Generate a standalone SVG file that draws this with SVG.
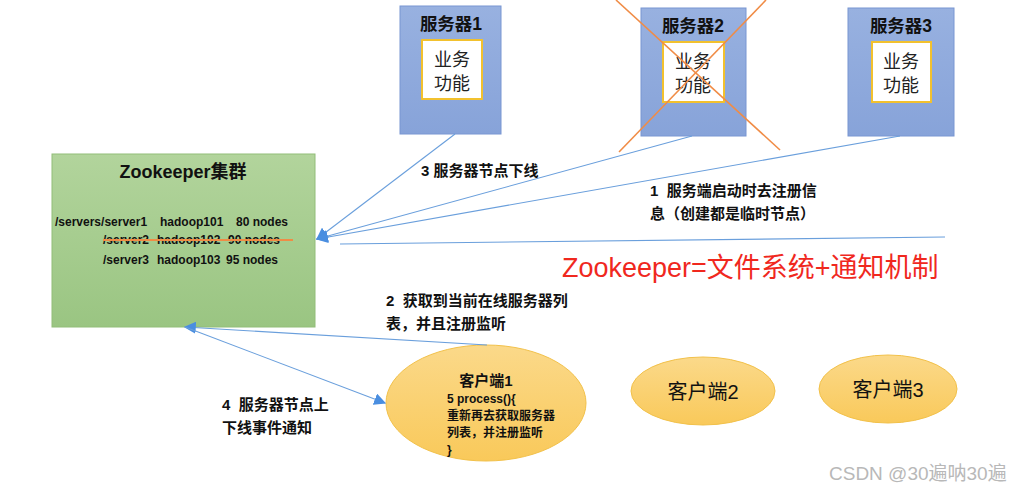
<svg xmlns="http://www.w3.org/2000/svg" width="1011" height="493" viewBox="0 0 1011 493">
<style>
text{font-family:"Liberation Sans","Noto Sans CJK SC",sans-serif;fill:#111}
.b{font-weight:bold}
.srv{fill:url(#gBlue);stroke:#7896d2;stroke-width:1}
.inner{fill:#fff;stroke:#f2c12e;stroke-width:2}
.stitle{font-size:17.5px;font-weight:bold;text-anchor:middle}
.itxt{font-size:18px;text-anchor:middle;fill:#222}
.conn{stroke:#6a9fdc;stroke-width:1.1;fill:none}
.lbl{font-size:15px;font-weight:bold}
.zk{font-size:12px;font-weight:bold}
.cli{fill:url(#gGold);stroke:#f2c14a;stroke-width:1}
.x{stroke:#f08c46;stroke-width:1.6}
</style>
<defs>
<linearGradient id="gBlue" x1="0" y1="0" x2="0" y2="1"><stop offset="0" stop-color="#98b1e0"/><stop offset="1" stop-color="#87a3d9"/></linearGradient>
<linearGradient id="gGreen" x1="0" y1="0" x2="0" y2="1"><stop offset="0" stop-color="#b2d49c"/><stop offset="1" stop-color="#9ac582"/></linearGradient>
<linearGradient id="gGold" x1="0" y1="0" x2="0" y2="1"><stop offset="0" stop-color="#fbd98a"/><stop offset="1" stop-color="#f9c95a"/></linearGradient>
<marker id="arr" viewBox="0 0 10 10" refX="9" refY="5" markerWidth="12" markerHeight="12" markerUnits="userSpaceOnUse" orient="auto"><path d="M0,0 L10,5 L0,10 z" fill="#4a8ee0"/></marker>
</defs>
<rect width="1011" height="493" fill="#fff"/>

<g id="zookeeper">
<rect x="52" y="154" width="263" height="173" fill="url(#gGreen)" stroke="#92bd78" stroke-width="1"/>
<text x="183" y="178" class="b" font-size="18" text-anchor="middle">Zookeeper集群</text>
<text class="zk" y="226"><tspan x="55">/servers/server1</tspan><tspan x="160">hadoop101</tspan><tspan x="236">80 nodes</tspan></text>
<text class="zk" y="244"><tspan x="103">/server2</tspan><tspan x="157">hadoop102</tspan><tspan x="228">90 nodes</tspan></text>
<line x1="103" y1="240" x2="293" y2="240" stroke="#f08c46" stroke-width="1.8"/>
<text class="zk" y="264"><tspan x="103">/server3</tspan><tspan x="157">hadoop103</tspan><tspan x="226">95 nodes</tspan></text>
</g>

<g id="server1">
<rect class="srv" x="400" y="6" width="101" height="128"/>
<text class="stitle" x="451" y="30">服务器1</text>
<rect class="inner" x="422" y="40" width="60" height="59"/>
<text class="itxt" x="452" y="66">业务</text>
<text class="itxt" x="452" y="90">功能</text>
</g>

<g id="server2">
<rect class="srv" x="641" y="8" width="105" height="128"/>
<text class="stitle" x="693" y="32">服务器2</text>
<rect class="inner" x="663" y="42" width="61" height="60"/>
<text class="itxt" x="693" y="68">业务</text>
<text class="itxt" x="693" y="92">功能</text>
<line class="x" x1="616" y1="0" x2="780" y2="150"/>
<line class="x" x1="766" y1="0" x2="619" y2="152"/>
</g>

<g id="server3">
<rect class="srv" x="848" y="8" width="106" height="128"/>
<text class="stitle" x="901" y="32">服务器3</text>
<rect class="inner" x="872" y="42" width="59" height="60"/>
<text class="itxt" x="901" y="68">业务</text>
<text class="itxt" x="901" y="92">功能</text>
</g>

<g id="client1">
<ellipse class="cli" cx="486" cy="403" rx="100" ry="58"/>
<text x="486" y="386" class="b" font-size="15" text-anchor="middle">客户端1</text>
<text x="447" y="403" class="b" font-size="12">5 process(){</text>
<text x="447" y="420" class="b" font-size="12">重新再去获取服务器</text>
<text x="447" y="437" class="b" font-size="12">列表，并注册监听</text>
<text x="447" y="454" class="b" font-size="12">}</text>
</g>

<g id="client2">
<ellipse class="cli" cx="703" cy="391" rx="72" ry="34"/>
<text x="703" y="399" font-size="20" text-anchor="middle">客户端2</text>
</g>

<g id="client3">
<ellipse class="cli" cx="888" cy="389" rx="69" ry="34"/>
<text x="888" y="397" font-size="20" text-anchor="middle">客户端3</text>
</g>

<g id="connectors">
<line class="conn" x1="455" y1="134" x2="317" y2="239" marker-end="url(#arr)"/>
<line class="conn" x1="692" y1="136" x2="317" y2="239" marker-end="url(#arr)"/>
<line class="conn" x1="900" y1="136" x2="317" y2="239" marker-end="url(#arr)"/>
<line class="conn" x1="340" y1="244" x2="945" y2="237"/>
<line class="conn" x1="487" y1="345" x2="185" y2="327" marker-end="url(#arr)"/>
<line class="conn" x1="185" y1="327" x2="385" y2="403" marker-end="url(#arr)"/>
</g>

<g id="labels">
<text class="lbl" x="421" y="176">3 服务器节点下线</text>
<text class="lbl" x="650" y="196" xml:space="preserve">1  服务端启动时去注册信</text>
<text class="lbl" x="650" y="219">息（创建都是临时节点）</text>
<text class="lbl" x="386" y="306" xml:space="preserve">2  获取到当前在线服务器列</text>
<text class="lbl" x="386" y="329">表，并且注册监听</text>
<text class="lbl" x="222" y="410" xml:space="preserve">4  服务器节点上</text>
<text class="lbl" x="222" y="433">下线事件通知</text>
<text x="562" y="277" font-size="27" style="fill:#f0281e">Zookeeper=文件系统+通知机制</text>
<text x="829" y="480" font-size="19" style="fill:#b8b8b8">CSDN @30遍呐30遍</text>
</g>
</svg>
